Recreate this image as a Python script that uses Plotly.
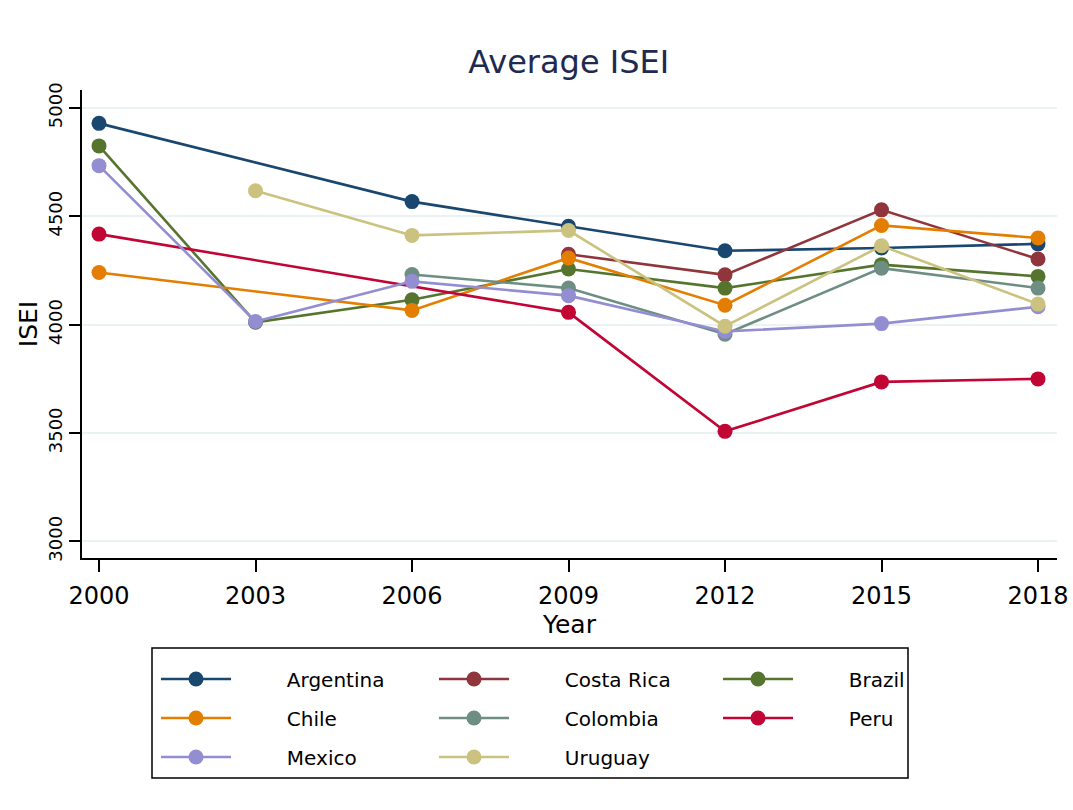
import plotly.graph_objects as go

# Survey years (x axis)
years = [2000, 2003, 2006, 2009, 2012, 2015, 2018]

# Average ISEI by country (None = not surveyed that year)
argentina = [4929, None, 4568, 4454, 4341, 4354, 4373]
costa_rica = [None, None, None, 4325, 4230, 4530, 4303]
brazil = [4825, 4011, 4115, 4257, 4169, 4277, 4223]
chile = [4241, None, 4066, 4308, 4090, 4458, 4400]
colombia = [None, None, 4232, 4169, 3956, 4261, 4169]
peru = [4418, None, None, 4057, 3508, 3736, 3750]
mexico = [4734, 4015, 4200, 4134, 3969, 4005, 4083]
uruguay = [None, 4618, 4412, 4435, 3993, 4364, 4095]

y_ticks = [3000, 3500, 4000, 4500, 5000]

series = [
    ("Argentina", argentina, "#1a476f"),
    ("Costa Rica", costa_rica, "#90353b"),
    ("Brazil", brazil, "#55752f"),
    ("Chile", chile, "#e37e00"),
    ("Colombia", colombia, "#6e8e84"),
    ("Peru", peru, "#c10534"),
    ("Mexico", mexico, "#938dd2"),
    ("Uruguay", uruguay, "#cac27e"),
]

FONT = "DejaVu Sans"
W, H = 1073, 810
L, R, T, B = 82, 16, 90, 252
PW, PH = W - L - R, H - T - B


def px_x(x):
    return (x - L) / PW


def px_y(y):
    return (H - B - y) / PH


# legend cells: 3 columns x 3 rows, row-major like the reference
col_x = [160, 438, 722]
row_y = [679, 718, 757]

fig = go.Figure()
legends = {}
for i, (name, vals, color) in enumerate(series):
    key = "legend" if i == 0 else f"legend{i + 1}"
    fig.add_trace(go.Scatter(
        x=years, y=vals, name="\u00a0" * 8 + name, mode="lines+markers",
        connectgaps=True, showlegend=True,
        line=dict(color=color, width=2.6),
        marker=dict(color=color, size=15),
        legend=key,
    ))
    r, c = divmod(i, 3)
    legends[key] = dict(
        x=px_x(col_x[c] - 4), xanchor="left",
        y=px_y(row_y[r]), yanchor="middle",
        orientation="h", borderwidth=0, bgcolor="rgba(0,0,0,0)",
        font=dict(size=20, family=FONT), itemwidth=70,
    )

fig.update_layout(
    width=W, height=H,
    margin=dict(l=L, r=R, t=T, b=B, autoexpand=False),
    paper_bgcolor="white", plot_bgcolor="white",
    font=dict(family=FONT, color="black"),
    hovermode=False, showlegend=True,
    title=dict(
        text="Average ISEI", x=0.53, xref="container", xanchor="center",
        y=1 - 62 / H, yref="container", yanchor="middle",
        font=dict(size=32, color="#1e2a4f", family=FONT),
    ),
    **legends,
)

# legend frame
fig.add_shape(
    type="rect", xref="paper", yref="paper",
    x0=px_x(152), x1=px_x(908), y0=px_y(778), y1=px_y(648),
    line=dict(color="black", width=1.5), fillcolor="rgba(0,0,0,0)",
)

fig.update_xaxes(
    range=[1999.674, 2018.364], tickvals=years, automargin=False,
    showgrid=False, zeroline=False,
    showline=True, linecolor="black", linewidth=1.5,
    ticks="outside", ticklen=12, tickcolor="black", tickwidth=1.5,
    ticklabelstandoff=3,
    tickfont=dict(size=24, family=FONT),
    title=dict(text="Year", font=dict(size=25, family=FONT), standoff=0),
)
fig.update_yaxes(
    range=[2923.5, 5083], tickvals=y_ticks, tickangle=-90, automargin=False,
    showgrid=True, gridcolor="#eaf2f3", gridwidth=1.5, zeroline=False,
    showline=True, linecolor="black", linewidth=1.5,
    ticks="outside", ticklen=11, tickcolor="black", tickwidth=1.5,
    ticklabelstandoff=0,
    tickfont=dict(size=18, family=FONT),
    title=dict(text="ISEI", font=dict(size=25, family=FONT), standoff=0),
)

fig.write_html(
    "out.html",
    config={"displayModeBar": False},
    post_script="document.body.style.margin='0';",
)
